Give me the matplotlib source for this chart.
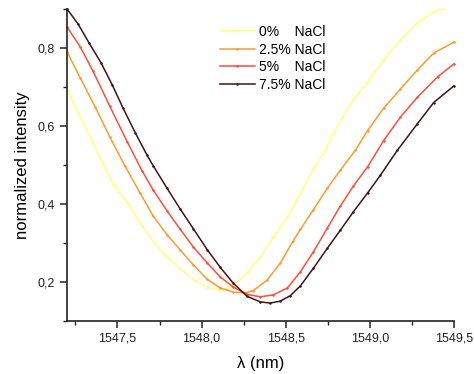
import matplotlib
matplotlib.use('Agg')
import matplotlib.pyplot as plt
from matplotlib.ticker import MultipleLocator, FuncFormatter

plt.rcParams['font.family'] = ['Liberation Sans', 'DejaVu Sans']

# values
wl_0 = [1547.200, 1547.280, 1547.355, 1547.414, 1547.474, 1547.557, 1547.634, 1547.712,
        1547.795, 1547.873, 1547.950, 1548.033, 1548.110, 1548.152, 1548.188, 1548.271,
        1548.349, 1548.426, 1548.510, 1548.587, 1548.664, 1548.736, 1548.783, 1548.902,
        1548.986, 1549.081, 1549.182, 1549.283, 1549.379, 1549.432]
int_0 = [0.692, 0.622, 0.556, 0.503, 0.452, 0.403, 0.351, 0.303,
         0.264, 0.234, 0.206, 0.186, 0.179, 0.183, 0.191, 0.223,
         0.264, 0.315, 0.367, 0.426, 0.490, 0.538, 0.582, 0.667,
         0.713, 0.769, 0.821, 0.864, 0.892, 0.900]

wl_25 = [1547.200, 1547.280, 1547.367, 1547.455, 1547.545, 1547.634, 1547.712, 1547.795,
         1547.873, 1547.950, 1548.033, 1548.110, 1548.188, 1548.260, 1548.307, 1548.390,
         1548.468, 1548.545, 1548.587, 1548.664, 1548.748, 1548.825, 1548.914, 1548.986,
         1549.081, 1549.182, 1549.283, 1549.379, 1549.500]
int_25 = [0.790, 0.722, 0.649, 0.571, 0.497, 0.428, 0.369, 0.321,
          0.282, 0.244, 0.207, 0.185, 0.174, 0.172, 0.178, 0.205,
          0.249, 0.306, 0.335, 0.385, 0.441, 0.487, 0.538, 0.588,
          0.645, 0.695, 0.744, 0.787, 0.815]

wl_5 = [1547.200, 1547.280, 1547.355, 1547.455, 1547.557, 1547.646, 1547.712, 1547.795,
        1547.873, 1547.950, 1548.033, 1548.110, 1548.188, 1548.271, 1548.349, 1548.426,
        1548.510, 1548.587, 1548.664, 1548.748, 1548.825, 1548.902, 1548.986, 1549.081,
        1549.182, 1549.283, 1549.402, 1549.500]
int_5 = [0.854, 0.802, 0.740, 0.650, 0.560, 0.485, 0.436, 0.382,
         0.335, 0.290, 0.249, 0.213, 0.187, 0.168, 0.162, 0.167,
         0.185, 0.226, 0.277, 0.339, 0.395, 0.446, 0.495, 0.562,
         0.623, 0.674, 0.726, 0.759]

wl_75 = [1547.200, 1547.265, 1547.331, 1547.402, 1547.468, 1547.533, 1547.605, 1547.676,
         1547.712, 1547.795, 1547.873, 1547.950, 1548.033, 1548.110, 1548.188, 1548.271,
         1548.349, 1548.408, 1548.468, 1548.527, 1548.587, 1548.664, 1548.748, 1548.825,
         1548.902, 1548.986, 1549.063, 1549.164, 1549.283, 1549.379, 1549.500]
int_75 = [0.900, 0.862, 0.813, 0.762, 0.706, 0.646, 0.583, 0.525,
          0.498, 0.440, 0.387, 0.337, 0.283, 0.238, 0.197, 0.163,
          0.149, 0.146, 0.151, 0.165, 0.190, 0.235, 0.287, 0.333,
          0.380, 0.428, 0.474, 0.538, 0.606, 0.660, 0.703]

labels = ['0%    NaCl', '2.5% NaCl', '5%    NaCl', '7.5% NaCl']
colors = ['#ffff80', '#ff9a2e', '#ff4f3c', '#3e1616']

fig = plt.figure(figsize=(4.74, 3.74), dpi=100)
ax = fig.add_axes([0.1414, 0.1417, 0.8164, 0.8343])

series = [(wl_0, int_0), (wl_25, int_25), (wl_5, int_5), (wl_75, int_75)]
for (x, y), lab, c in zip(series, labels, colors):
    ax.plot(x, y, color=c, lw=1.1, marker='o', ms=1.8, mew=0, label=lab, clip_on=False)

ax.set_xlim(1547.2, 1549.5)
ax.set_ylim(0.1, 0.9)

ax.xaxis.set_major_locator(MultipleLocator(0.5))
ax.xaxis.set_minor_locator(MultipleLocator(0.25))
ax.yaxis.set_major_locator(MultipleLocator(0.2))
ax.yaxis.set_minor_locator(MultipleLocator(0.1))

# comma as decimal separator
ax.xaxis.set_major_formatter(FuncFormatter(lambda v, p: f'{v:.1f}'.replace('.', ',')))
ax.yaxis.set_major_formatter(FuncFormatter(lambda v, p: f'{v:.1f}'.replace('.', ',')))

for s in ['top', 'right']:
    ax.spines[s].set_visible(False)
for s in ['left', 'bottom']:
    ax.spines[s].set_linewidth(1.2)
    ax.spines[s].set_color('#222222')

ax.tick_params(which='major', direction='out', length=5, width=1.1, labelsize=9, colors='#222222')
ax.tick_params(which='minor', direction='out', length=3, width=1.0, colors='#222222')

ax.set_xlabel('λ (nm)', fontsize=12, labelpad=8)
ax.set_ylabel('normalized intensity', fontsize=12, labelpad=6)

ax.legend(loc='upper left', bbox_to_anchor=(0.381, 0.966), frameon=False, fontsize=10,
          handlelength=2.5, handletextpad=0.3, labelspacing=0.25, borderaxespad=0)

plt.savefig('out.png', dpi=100)
plt.close()
